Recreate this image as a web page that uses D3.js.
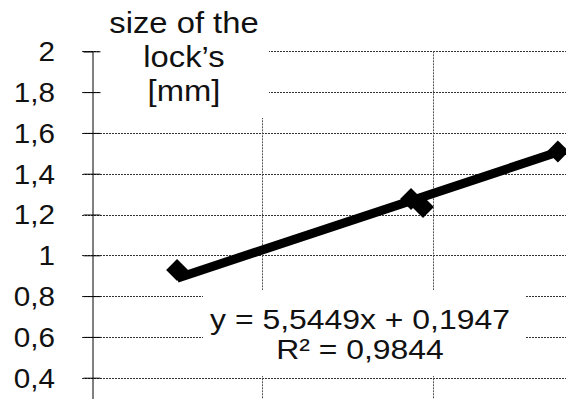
<!DOCTYPE html>
<html>
<head>
<meta charset="utf-8">
<script src="https://cdn.jsdelivr.net/npm/d3@7"></script>
<style>
  body { margin: 0; background: #fff; }
  svg { display: block; }
  text { font-family: "Liberation Sans", Arial, Helvetica, sans-serif; fill: #111; }
</style>
</head>
<body>
<div id="chart"></div>
<script>
// measured points (x = ratio, y = size of the lock's in mm)
const xValues = [0.125, 0.1935, 0.197, 0.2365];
const yValues = [0.928, 1.276, 1.237, 1.509];

const yTicks = [0.4, 0.6, 0.8, 1, 1.2, 1.4, 1.6, 1.8, 2];
const yTickLabels = ["0,4", "0,6", "0,8", "1", "1,2", "1,4", "1,6", "1,8", "2"];
const xGrid = [0.15, 0.2];

const trendSlope = 5.5449;
const trendIntercept = 0.1947;
const equationLines = ["y = 5,5449x + 0,1947", "R\u00b2 = 0,9844"];
const titleLines = ["size of the", "lock\u2019s", "[mm]"];

const width = 566, height = 399;

const svg = d3.select("#chart").append("svg")
    .attr("width", width)
    .attr("height", height);

const x = d3.scaleLinear().domain([0.1, 0.25]).range([91.7, 604]);
const y = d3.scaleLinear().domain([0.2, 2]).range([418.5, 51.3]);

// grid
svg.append("g").attr("class", "grid-h")
    .selectAll("line").data(yTicks)
    .join("line")
    .attr("x1", 82).attr("x2", width)
    .attr("y1", d => Math.round(y(d)) + 0.5)
    .attr("y2", d => Math.round(y(d)) + 0.5)
    .attr("stroke", "#333")
    .attr("stroke-dasharray", "2,1");

svg.append("g").attr("class", "grid-v")
    .selectAll("line").data(xGrid)
    .join("line")
    .attr("x1", d => Math.round(x(d)) + 0.5)
    .attr("x2", d => Math.round(x(d)) + 0.5)
    .attr("y1", y(2)).attr("y2", y(0.2))
    .attr("stroke", "#555")
    .attr("stroke-dasharray", "2,1");

// white boxes behind the title and the equation
svg.append("rect").attr("x", 100).attr("y", 0).attr("width", 169).attr("height", 118).attr("fill", "#fff");
svg.append("rect").attr("x", 203).attr("y", 290).attr("width", 322).attr("height", 86).attr("fill", "#fff");

// y axis
const yAxis = d3.axisLeft(y).tickValues(yTicks).tickSize(9).tickFormat("");
const yAxisG = svg.append("g")
    .attr("transform", `translate(${Math.round(x(0.1)) + 0.5},0)`)
    .call(yAxis);
yAxisG.select(".domain").attr("stroke", "#000");
yAxisG.selectAll(".tick line").attr("x2", -9).attr("stroke", "#000");
yAxisG.selectAll(".tick").append("line")
    .attr("x1", 0).attr("x2", 8).attr("stroke", "#000");

svg.append("g").attr("class", "tick-labels")
    .selectAll("text").data(yTicks)
    .join("text")
    .attr("transform", d => `translate(55,${y(d) + 9.8}) scale(1.06,1)`)
    .attr("text-anchor", "end")
    .attr("font-size", 28)
    .text((d, i) => yTickLabels[i]);

// trend line
const xExtent = d3.extent(xValues);
svg.append("line")
    .attr("x1", x(xExtent[0]))
    .attr("y1", y(trendSlope * xExtent[0] + trendIntercept))
    .attr("x2", x(xExtent[1]))
    .attr("y2", y(trendSlope * xExtent[1] + trendIntercept))
    .attr("stroke", "#000")
    .attr("stroke-width", 9);

// markers
const diamond = d3.symbol().type(d3.symbolSquare).size(240);
svg.append("g").attr("class", "markers")
    .selectAll("path").data(xValues)
    .join("path")
    .attr("d", diamond)
    .attr("transform", (d, i) => `translate(${x(d)},${y(yValues[i])}) rotate(45)`)
    .attr("fill", "#000");

// title
svg.append("g").attr("class", "title")
    .selectAll("text").data(titleLines)
    .join("text")
    .attr("transform", (d, i) => `translate(184,${33 + i * 34}) scale(1.13,1)`)
    .attr("text-anchor", "middle")
    .attr("font-size", 29)
    .text(d => d);

// equation
svg.append("g").attr("class", "equation")
    .selectAll("text").data(equationLines)
    .join("text")
    .attr("transform", (d, i) => `translate(360,${328.5 + i * 30}) scale(1.12,1)`)
    .attr("text-anchor", "middle")
    .attr("font-size", 28.5)
    .text(d => d);
</script>
</body>
</html>
